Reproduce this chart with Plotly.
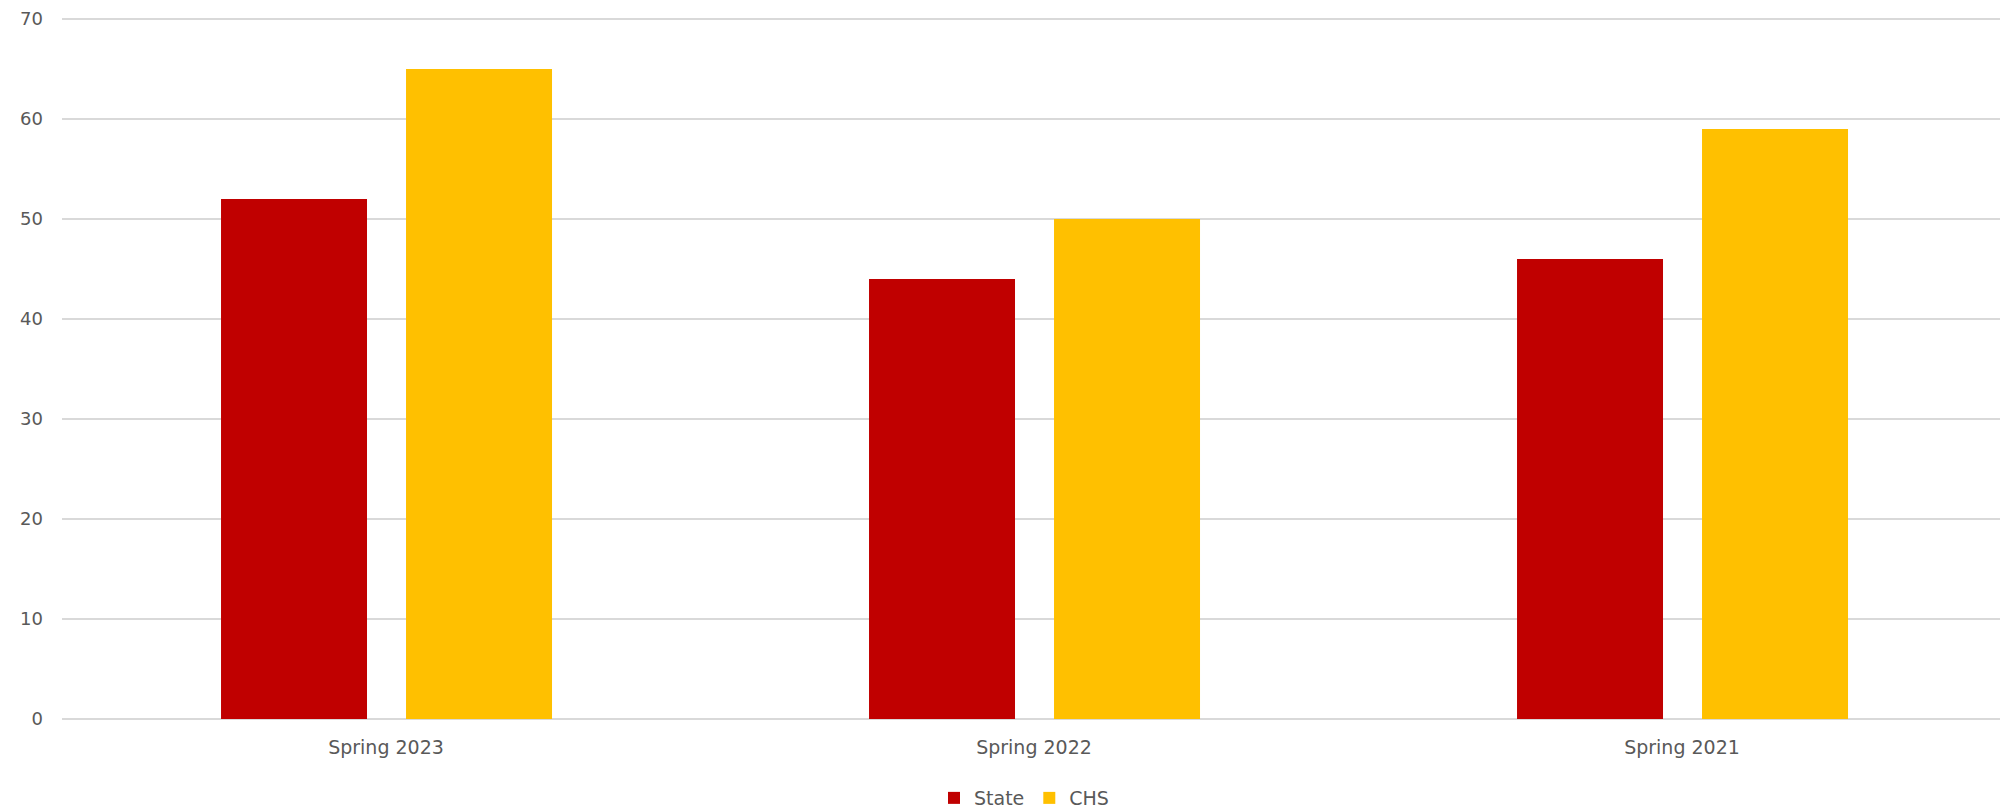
import plotly.graph_objects as go

categories = ["Spring 2023", "Spring 2022", "Spring 2021"]
state_values = [52, 44, 46]
chs_values = [65, 50, 59]
y_ticks = [0, 10, 20, 30, 40, 50, 60, 70]

font_family = "DejaVu Sans, sans-serif"
grey = "#595959"

fig = go.Figure()
fig.add_trace(go.Bar(
    name="State", x=categories, y=state_values,
    marker=dict(color="#C00000", line=dict(width=0)),
    width=0.2253, offset=-0.2546,
))
fig.add_trace(go.Bar(
    name="CHS", x=categories, y=chs_values,
    marker=dict(color="#FFC000", line=dict(width=0)),
    width=0.2253, offset=0.0309,
))

# page body has an 8px default margin, so the figure is sized/offset to compensate
fig.update_layout(
    width=2000, height=801,
    margin=dict(l=54, r=2, t=6, b=90, autoexpand=False),
    plot_bgcolor="white", paper_bgcolor="white",
    barmode="group",
    font=dict(family=font_family, size=18, color=grey),
    showlegend=True,
    legend=dict(orientation="h", x=0.508, xanchor="center", xref="container",
                y=0.0137, yanchor="middle", yref="container",
                font=dict(size=19, color=grey), itemwidth=30, traceorder="normal"),
    xaxis=dict(showgrid=False, showline=False, ticks="", automargin=False, ticklabelstandoff=15,
               tickfont=dict(size=19, color=grey)),
    yaxis=dict(range=[0, 70.5], tickvals=y_ticks, showgrid=True, gridcolor="#D9D9D9", gridwidth=1.5,
               zeroline=True, zerolinecolor="#D9D9D9", zerolinewidth=1.5, automargin=False,
               ticklabeloverflow="allow",
               showline=False, ticks="", ticklabelstandoff=18, tickfont=dict(size=18, color=grey)),
)

fig.write_html("out.html")
